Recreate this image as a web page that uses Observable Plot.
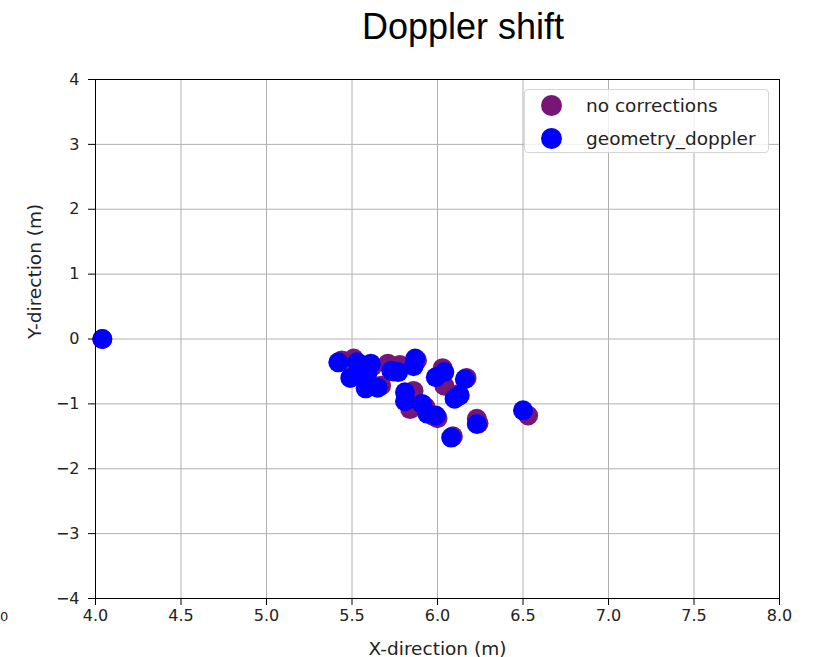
<!DOCTYPE html>
<html>
<head>
<meta charset="utf-8">
<script src="https://cdn.jsdelivr.net/npm/d3@7"></script>
<script src="https://cdn.jsdelivr.net/npm/@observablehq/plot@0.6"></script>
<style>
  html, body { margin: 0; padding: 0; background: #fff; }
  #wrap { position: relative; width: 818px; height: 657px; overflow: hidden; font-family: "DejaVu Sans", sans-serif; }
  #title { position: absolute; left: 0; top: 6px; width: 926px; text-align: center; font-family: "Liberation Sans", Arial, sans-serif; font-size: 36px; color: #000; }
  #chart { position: absolute; left: 0; top: 60px; }
  #legend { position: absolute; left: 524px; top: 89px; width: 245px; height: 64px; box-sizing: border-box; border: 1px solid #d5d5d5; border-radius: 4px; background: rgba(255,255,255,0.8); font-size: 18.5px; color: #222; }
  .li { position: absolute; left: 0; height: 24px; display: flex; align-items: center; }
  .sw { position: absolute; left: 16px; width: 21px; height: 21px; border-radius: 50%; }
  .lt { position: absolute; left: 61px; white-space: nowrap; }
  #stray { position: absolute; left: 0px; top: 609px; font-size: 13px; color: #222; }
</style>
</head>
<body>
<div id="wrap">
  <div id="title">Doppler shift</div>
  <div id="chart"></div>
  <div id="legend"></div>
  <div id="stray">0</div>
</div>
<script>
const seriesNames = ["no corrections", "geometry_doppler"];
const seriesColors = ["#761676", "#0000ff"];

const xNoCorr = [4.04, 5.44, 5.51, 5.55, 5.62, 5.71, 5.78, 5.74, 5.60, 5.67, 5.88, 5.86, 5.84, 5.93, 5.97, 6.03, 6.04, 6.00, 6.12, 6.17, 6.23, 6.09, 6.53, 5.50, 6.24];
const yNoCorr = [0.00, -0.33, -0.30, -0.40, -0.42, -0.38, -0.40, -0.50, -0.72, -0.72, -0.33, -0.80, -1.08, -1.05, -1.18, -0.45, -0.72, -1.22, -0.85, -0.60, -1.23, -1.50, -1.18, -0.58, -1.30];

const xGeom = [4.04, 5.42, 5.49, 5.53, 5.61, 5.59, 5.58, 5.65, 5.73, 5.77, 5.87, 5.86, 5.81, 5.81, 5.91, 5.94, 5.99, 5.99, 6.04, 6.16, 6.10, 6.13, 6.23, 6.08, 6.50];
const yGeom = [0.00, -0.36, -0.60, -0.36, -0.38, -0.53, -0.76, -0.75, -0.49, -0.51, -0.30, -0.42, -0.82, -0.96, -1.00, -1.15, -1.18, -0.59, -0.51, -0.62, -0.92, -0.87, -1.31, -1.52, -1.10];

const xTicks = [4.0, 4.5, 5.0, 5.5, 6.0, 6.5, 7.0, 7.5, 8.0];
const yTicks = [-4, -3, -2, -1, 0, 1, 2, 3, 4];

const noCorr = xNoCorr.map((x, i) => ({x, y: yNoCorr[i]}));
const geom = xGeom.map((x, i) => ({x, y: yGeom[i]}));

const chart = Plot.plot({
  width: 818,
  height: 597,
  marginLeft: 95,
  marginRight: 39,
  marginTop: 19,
  marginBottom: 59,
  style: {fontFamily: "DejaVu Sans, sans-serif", fontSize: "16px", color: "#222", background: "white"},
  x: {domain: [4, 8], label: null},
  y: {domain: [-4, 4], label: null},
  marks: [
    Plot.gridX(xTicks, {stroke: "#b0b0b0", strokeOpacity: 1, strokeWidth: 1}),
    Plot.gridY(yTicks, {stroke: "#b0b0b0", strokeOpacity: 1, strokeWidth: 1}),
    Plot.dot(noCorr, {x: "x", y: "y", r: 10, fill: seriesColors[0], stroke: "none"}),
    Plot.dot(geom, {x: "x", y: "y", r: 10, fill: seriesColors[1], stroke: "none"}),
    Plot.frame({stroke: "#000", strokeWidth: 1}),
    Plot.axisX(xTicks, {tickSize: 7, tickPadding: 4, tickFormat: d3.format(".1f"), stroke: "#000", fill: "#222", fontSize: 16, label: null}),
    Plot.axisY(yTicks, {tickSize: 7, tickPadding: 9, tickFormat: d3.format("d"), stroke: "#000", fill: "#222", fontSize: 16, label: null}),
    Plot.text(["X-direction (m)"], {frameAnchor: "bottom", dy: 56, fontSize: 18.5, fill: "#222"}),
    Plot.text(["Y-direction (m)"], {frameAnchor: "left", dx: -60, rotate: -90, fontSize: 18.5, fill: "#222"})
  ]
});
document.getElementById("chart").appendChild(chart);

const legend = document.getElementById("legend");
seriesNames.forEach((name, i) => {
  const row = document.createElement("div");
  row.className = "li";
  row.style.top = (3 + i * 33) + "px";
  row.innerHTML = `<span class="sw" style="background:${seriesColors[i]}"></span><span class="lt">${name}</span>`;
  legend.appendChild(row);
});
</script>
</body>
</html>
